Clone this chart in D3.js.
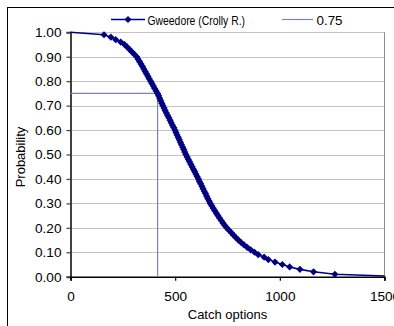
<!DOCTYPE html>
<html>
<head>
<meta charset="utf-8">
<script src="https://cdn.jsdelivr.net/npm/d3@7"></script>
<style>
  html, body { margin: 0; padding: 0; background: #fff; }
  svg { display: block; }
  text { font-family: "Liberation Sans", Arial, sans-serif; fill: #000; }
</style>
</head>
<body>
<svg id="chart" width="394" height="326"></svg>
<script>
// ---- data ----
const probability = [
  1.00, 0.99, 0.98, 0.97, 0.96, 0.95, 0.94, 0.93, 0.92, 0.91,
  0.90, 0.89, 0.88, 0.87, 0.86, 0.85, 0.84, 0.83, 0.82, 0.81,
  0.80, 0.79, 0.78, 0.77, 0.76, 0.75, 0.74, 0.73, 0.72, 0.71,
  0.70, 0.69, 0.68, 0.67, 0.66, 0.65, 0.64, 0.63, 0.62, 0.61,
  0.60, 0.59, 0.58, 0.57, 0.56, 0.55, 0.54, 0.53, 0.52, 0.51,
  0.50, 0.49, 0.48, 0.47, 0.46, 0.45, 0.44, 0.43, 0.42, 0.41,
  0.40, 0.39, 0.38, 0.37, 0.36, 0.35, 0.34, 0.33, 0.32, 0.31,
  0.30, 0.29, 0.28, 0.27, 0.26, 0.25, 0.24, 0.23, 0.22, 0.21,
  0.20, 0.19, 0.18, 0.17, 0.16, 0.15, 0.14, 0.13, 0.12, 0.11,
  0.10, 0.09, 0.08, 0.07, 0.06, 0.05, 0.04, 0.03, 0.02, 0.01,
  0.003
];
const catchOptions = [
  0, 160, 193, 216, 240, 258, 270, 282, 293, 305,
  316, 323, 330, 337, 344, 350, 357, 363, 370, 376,
  383, 389, 396, 402, 409, 416, 421, 426, 431, 436,
  441, 447, 452, 458, 464, 470, 476, 481, 487, 493,
  499, 504, 509, 515, 520, 525, 530, 536, 541, 546,
  551, 557, 563, 569, 575, 581, 587, 593, 599, 605,
  611, 616, 622, 628, 633, 639, 645, 650, 656, 662,
  668, 675, 682, 689, 697, 704, 712, 720, 728, 737,
  746, 757, 768, 779, 790, 802, 815, 829, 844, 861,
  879, 897, 925, 945, 977, 1012, 1047, 1096, 1161, 1263,
  1500
];
const seriesName = "Gweedore (Crolly R.)";
const dropName = "0.75";
const dropX = [0, 416, 416];
const dropY = [0.75, 0.75, 0];
const yTicks = [0, 0.1, 0.2, 0.3, 0.4, 0.5, 0.6, 0.7, 0.8, 0.9, 1.0];
const xTicks = [0, 500, 1000, 1500];
const xTitle = "Catch options";
const yTitle = "Probability";

// ---- layout ----
const svg = d3.select("#chart");
const pLeft = 70.5, pRight = 384.5, pTop = 32.3, pBottom = 276.7;
const x = d3.scaleLinear().domain([0, 1500]).range([pLeft, pRight]);
const y = d3.scaleLinear().domain([0, 1]).range([pBottom, pTop]);

const navy = "#000080";
const dropColor = "#8080b8";

// outer frame
svg.append("rect").attr("x", 7.5).attr("y", 7.5).attr("width", 400).attr("height", 340)
  .attr("fill", "none").attr("stroke", "#000").attr("stroke-width", 1);

// gridlines
svg.append("g").selectAll("line").data(yTicks.filter(d => d > 0)).join("line")
  .attr("x1", pLeft).attr("x2", pRight)
  .attr("y1", d => Math.round(y(d)) + 0.5).attr("y2", d => Math.round(y(d)) + 0.5)
  .attr("stroke", "#c4c4c4").attr("stroke-width", 1);

// plot area right border
svg.append("line").attr("x1", pRight).attr("x2", pRight).attr("y1", pTop).attr("y2", pBottom)
  .attr("stroke", "#8c8c8c").attr("stroke-width", 1);

// y axis
const yAxis = d3.axisLeft(y).tickValues(yTicks).tickFormat(d3.format(".2f")).tickSize(4).tickPadding(5);
const gy = svg.append("g").attr("transform", `translate(${pLeft},0)`).call(yAxis);
gy.select(".domain").attr("stroke", "#404040").attr("stroke-width", 2);
gy.selectAll(".tick line").attr("stroke", "#404040").attr("stroke-width", 1.2);
gy.selectAll(".tick text").attr("font-size", 13.6).attr("font-family", "Liberation Sans, Arial, sans-serif").attr("fill", "#000");

// x axis
const xAxis = d3.axisBottom(x).tickValues(xTicks).tickFormat(d3.format("d")).tickSize(4).tickPadding(11);
const gx = svg.append("g").attr("transform", `translate(0,${pBottom})`).call(xAxis);
gx.select(".domain").attr("stroke", "#000").attr("stroke-width", 1.5);
gx.selectAll(".tick line").attr("stroke", "#000").attr("stroke-width", 1.2);
gx.selectAll(".tick text").attr("font-size", 13.6).attr("font-family", "Liberation Sans, Arial, sans-serif").attr("fill", "#000");

// drop line (0.75)
const dropPts = dropX.map((d, i) => [d, dropY[i]]);
svg.append("path").datum(dropPts)
  .attr("d", d3.line().x(d => x(d[0])).y(d => y(d[1])))
  .attr("fill", "none").attr("stroke", dropColor).attr("stroke-width", 1.2);

// series
const pts = catchOptions.map((c, i) => [c, probability[i]]);
svg.append("path").datum(pts)
  .attr("d", d3.line().x(d => x(d[0])).y(d => y(d[1])))
  .attr("fill", "none").attr("stroke", navy).attr("stroke-width", 1.6);
const diamond = "M0,-3.6L3.6,0L0,3.6L-3.6,0Z";
svg.append("g").selectAll("path").data(pts.slice(1, pts.length - 1)).join("path")
  .attr("d", diamond)
  .attr("transform", d => `translate(${x(d[0])},${y(d[1])})`)
  .attr("fill", navy);

// axis titles
svg.append("text").attr("x", (pLeft + pRight) / 2).attr("y", 319)
  .attr("text-anchor", "middle").attr("font-size", 13).text(xTitle);
svg.append("text").attr("transform", `translate(24.5,${157}) rotate(-90)`)
  .attr("text-anchor", "middle").attr("font-size", 13).text(yTitle);

// legend
const lg = svg.append("g");
lg.append("line").attr("x1", 111).attr("x2", 145).attr("y1", 19.5).attr("y2", 19.5)
  .attr("stroke", navy).attr("stroke-width", 1.6);
lg.append("path").attr("d", diamond).attr("transform", "translate(128,19.5)").attr("fill", navy);
lg.append("text").attr("x", 147.5).attr("y", 24.5).attr("font-size", 13)
  .attr("textLength", 97.5).attr("lengthAdjust", "spacingAndGlyphs").text(seriesName);
lg.append("line").attr("x1", 282).attr("x2", 313).attr("y1", 19.5).attr("y2", 19.5)
  .attr("stroke", dropColor).attr("stroke-width", 1.2);
lg.append("text").attr("x", 316.5).attr("y", 24.5).attr("font-size", 13)
  .attr("textLength", 26).attr("lengthAdjust", "spacingAndGlyphs").text(dropName);
</script>
</body>
</html>
